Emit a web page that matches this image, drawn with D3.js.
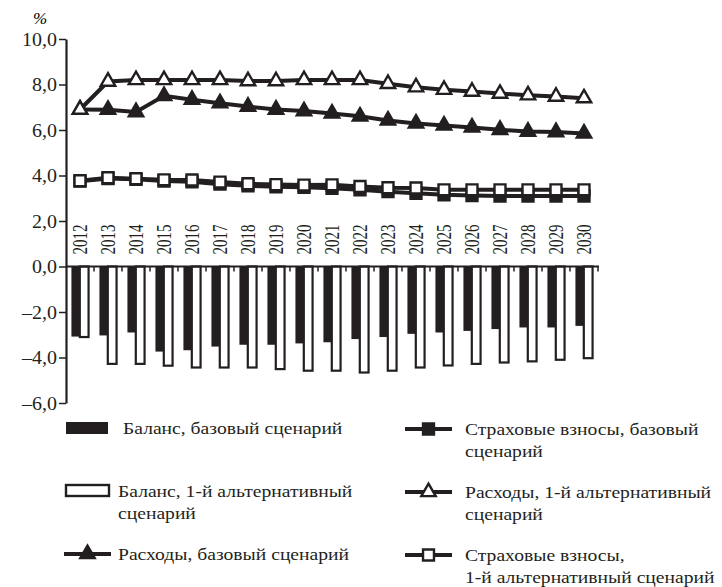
<!DOCTYPE html>
<html>
<head>
<meta charset="utf-8">
<script src="https://cdn.jsdelivr.net/npm/d3@7"></script>
<style>
  body { margin: 0; background: #fff; }
  svg text { font-family: "Liberation Serif", Tinos, "Times New Roman", "DejaVu Serif", serif; }
  .axis path, .axis line { stroke: #231f20; }
  .axis text { fill: #231f20; }
</style>
</head>
<body>
<svg id="chart" width="722" height="587"></svg>
<script>
const years = ['2012','2013','2014','2015','2016','2017','2018','2019','2020','2021','2022','2023','2024','2025','2026','2027','2028','2029','2030'];

// Баланс, базовый / 1-й альтернативный
const balanceBase = [-3.08,-3.03,-2.9,-3.74,-3.68,-3.52,-3.44,-3.44,-3.38,-3.33,-3.19,-3.1,-2.96,-2.9,-2.83,-2.75,-2.68,-2.68,-2.61];
const balanceAlt = [-3.1,-4.28,-4.28,-4.36,-4.44,-4.44,-4.44,-4.51,-4.58,-4.58,-4.66,-4.58,-4.44,-4.35,-4.28,-4.22,-4.17,-4.1,-4.03];

// Расходы
const expBase = [6.9,6.89,6.79,7.5,7.33,7.18,7.03,6.9,6.83,6.73,6.6,6.42,6.29,6.2,6.11,6.01,5.93,5.91,5.85];
const expAlt = [6.9,8.13,8.2,8.2,8.2,8.2,8.15,8.15,8.2,8.2,8.2,8.03,7.88,7.77,7.69,7.6,7.53,7.47,7.4];

// Страховые взносы
const contribBase = [3.75,3.87,3.83,3.76,3.72,3.62,3.55,3.5,3.48,3.44,3.37,3.29,3.22,3.15,3.12,3.1,3.1,3.1,3.1];
const contribAlt = [3.77,3.9,3.86,3.81,3.8,3.71,3.64,3.6,3.58,3.59,3.52,3.46,3.45,3.37,3.37,3.37,3.37,3.37,3.37];

const yTicks = [-6,-4,-2,0,2,4,6,8,10];

const ink = '#231f20';
const FONT = '"Liberation Serif", Tinos, "Times New Roman", "DejaVu Serif", serif';
const margin = { top: 39, right: 124, bottom: 184, left: 66 };
const width = 722, height = 587;

const svg = d3.select('#chart');

const xScale = d3.scaleBand()
  .domain(years)
  .range([margin.left, width - margin.right]);

const xBar = d3.scaleBand()
  .domain(['base', 'alt'])
  .range([0, xScale.bandwidth()])
  .paddingInner(-0.05)
  .paddingOuter(0.65);

const yScale = d3.scaleLinear()
  .domain([-6, 10])
  .range([height - margin.bottom, margin.top]);

const fmt = (d) => d.toFixed(1).replace('.', ',').replace('-', '–');

// bars
const barData = years.map((y, i) => ({ year: y, base: balanceBase[i], alt: balanceAlt[i] }));
const barG = svg.append('g');
barG.selectAll('.bar-base')
  .data(barData)
  .enter()
  .append('rect')
  .attr('class', 'bar-base')
  .attr('x', (d) => xScale(d.year) + xBar('base'))
  .attr('y', yScale(0))
  .attr('width', xBar.bandwidth())
  .attr('height', (d) => yScale(d.base) - yScale(0))
  .style('fill', ink);

barG.selectAll('.bar-alt')
  .data(barData)
  .enter()
  .append('rect')
  .attr('class', 'bar-alt')
  .attr('x', (d) => xScale(d.year) + xBar('alt'))
  .attr('y', yScale(0))
  .attr('width', xBar.bandwidth())
  .attr('height', (d) => yScale(d.alt) - yScale(0))
  .style('fill', '#fff')
  .style('stroke', ink)
  .style('stroke-width', 2.2);

// axes
const yAxis = (g) => g.attr('transform', `translate(${margin.left},0)`)
  .call(d3.axisLeft(yScale).tickValues(yTicks).tickFormat(fmt).tickSize(7).tickSizeOuter(0).tickPadding(2));
svg.append('g').attr('class', 'y-axis axis').call(yAxis);
svg.select('.y-axis').attr('font-family', FONT);
svg.selectAll('.y-axis path').style('stroke-width', 2.2);
svg.selectAll('.y-axis line').style('stroke-width', 1.5);
svg.selectAll('.y-axis text')
  .attr('class', 'htext')
  .attr('data-stretch', 1.05)
  .style('font-size', '19px')
  .style('font-family', FONT);

const xAxisG = svg.append('g').attr('class', 'x-axis axis');
xAxisG.append('line')
  .attr('x1', margin.left)
  .attr('x2', width - margin.right + 1)
  .attr('y1', yScale(0))
  .attr('y2', yScale(0))
  .style('stroke-width', 2.2);
xAxisG.selectAll('.xtick')
  .data(years)
  .enter()
  .append('line')
  .attr('class', 'xtick')
  .attr('x1', (d) => xScale(d) + xScale.bandwidth())
  .attr('x2', (d) => xScale(d) + xScale.bandwidth())
  .attr('y1', yScale(0))
  .attr('y2', yScale(0) + 5)
  .style('stroke-width', 1.5);
xAxisG.selectAll('.xlabel')
  .data(years)
  .enter()
  .append('text')
  .attr('class', 'xlabel')
  .attr('transform', (d) => `translate(${xScale(d) + xScale.bandwidth() / 2},${yScale(0) - 12}) rotate(-90) scale(1,1.35)`)
  .attr('dy', '0.36em')
  .style('font-size', '15px')
  .style('font-family', FONT)
  .text((d) => d);

// lines
const seriesList = [
  { key: 'contribBase', values: contribBase, symbol: d3.symbolSquare, size: 120, fill: ink },
  { key: 'contribAlt', values: contribAlt, symbol: d3.symbolSquare, size: 120, fill: '#fff' },
  { key: 'expBase', values: expBase, symbol: d3.symbolTriangle, size: 90, fill: ink },
  { key: 'expAlt', values: expAlt, symbol: d3.symbolTriangle, size: 90, fill: '#fff' },
];

const line = d3.line()
  .x((d) => xScale(d.year) + xScale.bandwidth() / 2)
  .y((d) => yScale(d.v));

seriesList.forEach((s) => {
  const pts = years.map((y, i) => ({ year: y, v: s.values[i] }));
  const g = svg.append('g').attr('class', s.key);
  g.append('path')
    .datum(pts)
    .attr('d', line)
    .style('fill', 'none')
    .style('stroke', ink)
    .style('stroke-width', 4);
  g.selectAll('.dot')
    .data(pts)
    .enter()
    .append('path')
    .attr('class', 'dot')
    .attr('transform', (d) => `translate(${xScale(d.year) + xScale.bandwidth() / 2},${yScale(d.v)})`)
    .attr('d', d3.symbol().type(s.symbol).size(s.size))
    .style('fill', s.fill)
    .style('stroke', ink)
    .style('stroke-width', 2.4);
});

// % label
svg.append('text')
  .attr('class', 'htext')
  .attr('x', 33)
  .attr('y', 24)
  .style('font-size', '17px')
  .style('font-style', 'italic')
  .style('font-family', FONT)
  .text('%');

// legend
const legendItems = [
  { kind: 'rectFill', x: 66, y: 428, lines: ['Баланс, базовый сценарий'], tx: 123 },
  { kind: 'rectOpen', x: 66, y: 491, lines: ['Баланс, 1-й альтернативный', 'сценарий'], tx: 118 },
  { kind: 'lineSym', symbol: d3.symbolTriangle, size: 90, fill: ink, x: 64, y: 554, lines: ['Расходы, базовый сценарий'], tx: 118 },
  { kind: 'lineSym', symbol: d3.symbolSquare, size: 120, fill: ink, x: 405, y: 429, lines: ['Страховые взносы, базовый', 'сценарий'], tx: 465 },
  { kind: 'lineSym', symbol: d3.symbolTriangle, size: 90, fill: '#fff', x: 405, y: 492, lines: ['Расходы, 1-й альтернативный', 'сценарий'], tx: 465 },
  { kind: 'lineSym', symbol: d3.symbolSquare, size: 120, fill: '#fff', x: 405, y: 555, lines: ['Страховые взносы,', '1-й альтернативный сценарий'], tx: 465 },
];

const legend = svg.append('g').attr('class', 'legend');
legendItems.forEach((it) => {
  const g = legend.append('g');
  if (it.kind === 'rectFill') {
    g.append('rect').attr('x', it.x).attr('y', it.y - 6).attr('width', 42).attr('height', 12).style('fill', ink);
  } else if (it.kind === 'rectOpen') {
    g.append('rect').attr('x', it.x).attr('y', it.y - 6).attr('width', 43).attr('height', 11)
      .style('fill', '#fff').style('stroke', ink).style('stroke-width', 2.4);
  } else {
    g.append('line').attr('x1', it.x).attr('x2', it.x + 47).attr('y1', it.y).attr('y2', it.y)
      .style('stroke', ink).style('stroke-width', 4);
    g.append('path')
      .attr('transform', `translate(${it.x + 23.5},${it.y})`)
      .attr('d', d3.symbol().type(it.symbol).size(it.size))
      .style('fill', it.fill).style('stroke', ink).style('stroke-width', 2.4);
  }
  it.lines.forEach((t, j) => {
    g.append('text')
      .attr('class', 'htext')
      .attr('data-stretch', 1.12)
      .attr('x', it.tx)
      .attr('y', it.y + j * 22)
      .attr('dy', '0.35em')
      .style('font-size', '17.5px')
      .style('font-family', FONT)
      .style('fill', ink)
      .text(t);
  });
});

// the source picture is a little wider than the font; widen horizontal text to match
svg.selectAll('.htext').each(function () {
  const k = +(this.getAttribute('data-stretch') || 1);
  if (k === 1) return;
  const len = this.getComputedTextLength();
  d3.select(this).attr('textLength', len * k).attr('lengthAdjust', 'spacingAndGlyphs');
});
</script>
</body>
</html>
